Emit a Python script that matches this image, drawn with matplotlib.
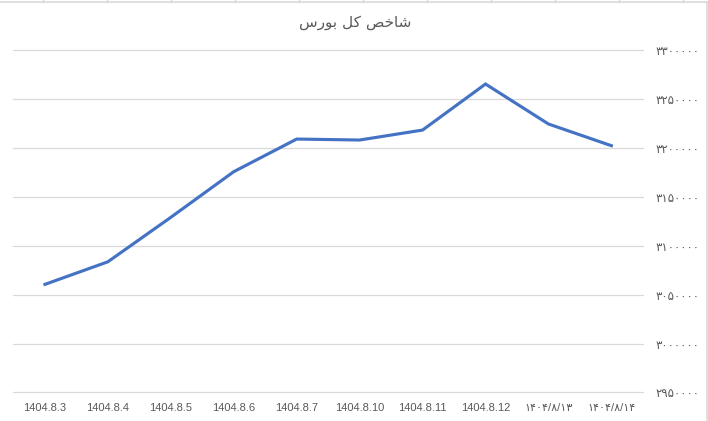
import matplotlib.pyplot as plt
from matplotlib.lines import Line2D

plt.rcParams["font.family"] = ["Liberation Sans", "DejaVu Sans"]

# data
dates = [
    "1404.8.3", "1404.8.4", "1404.8.5", "1404.8.6", "1404.8.7",
    "1404.8.10", "1404.8.11", "1404.8.12", "۱۴۰۴/۸/۱۳", "۱۴۰۴/۸/۱۴",
]
index_values = [
    3060500, 3083600, 3129100, 3175800, 3209200,
    3208200, 3218400, 3265500, 3224600, 3202400,
]
y_ticks = [2950000, 3000000, 3050000, 3100000, 3150000, 3200000, 3250000, 3300000]

PERSIAN_DIGITS = str.maketrans("0123456789", "۰۱۲۳۴۵۶۷۸۹")

# "شاخص کل بورس" in presentation forms (matplotlib does no Arabic shaping / RTL),
# written in logical order, reversed for display
_title_logical = (
    "\ufeb7\ufe8e\ufea7\ufeba"    # شاخص
    " \ufb90\ufede"               # کل
    " \ufe91\ufeee\ufead\ufeb1"   # بورس
)
title = _title_logical[::-1]

text_color = "#595959"
line_color = "#4472C4"
grid_color = "#D9D9D9"

fig = plt.figure(figsize=(7.08, 4.21), dpi=100)
ax = fig.add_axes([0.019, 0.068, 0.889, 0.8125])

x = list(range(len(dates)))
ax.plot(x, index_values, color=line_color, linewidth=2.25, solid_joinstyle="miter")

ax.set_xlim(-0.5, len(dates) - 0.5)
ax.set_ylim(y_ticks[0], y_ticks[-1])
ax.set_yticks(y_ticks)
ax.set_yticklabels([str(v).translate(PERSIAN_DIGITS) for v in y_ticks],
                   family=["DejaVu Sans"], fontsize=8.5, color=text_color)
ax.set_xticks(x)
ax.set_xticklabels(dates, fontsize=8, color=text_color,
                   family=["Liberation Sans", "DejaVu Sans"])
ax.yaxis.tick_right()
ax.tick_params(axis="y", length=0, pad=9)
ax.tick_params(axis="x", length=0, pad=7.5)

ax.grid(True, axis="y", color=grid_color, linewidth=0.9)
for gl in ax.get_ygridlines():
    gl.set_clip_on(False)
ax.set_axisbelow(True)
for s in ax.spines.values():
    s.set_visible(False)

fig.text(0.502, 0.947, title, ha="center", va="center", fontsize=11,
         color=text_color, family=["DejaVu Sans"])

# chart frame and the spreadsheet cell borders peeking above it
W, H = 708, 421
fig.add_artist(Line2D([0, 706.5 / W], [1 - 2 / H, 1 - 2 / H], color=grid_color, lw=1.2))
fig.add_artist(Line2D([706.5 / W, 706.5 / W], [0, 1 - 2 / H], color=grid_color, lw=1.2))
for cx in range(43, 700, 64):
    fig.add_artist(Line2D([cx / W, cx / W], [1 - 2 / H, 1], color=grid_color, lw=1.0))

fig.savefig("out.png", dpi=100)
